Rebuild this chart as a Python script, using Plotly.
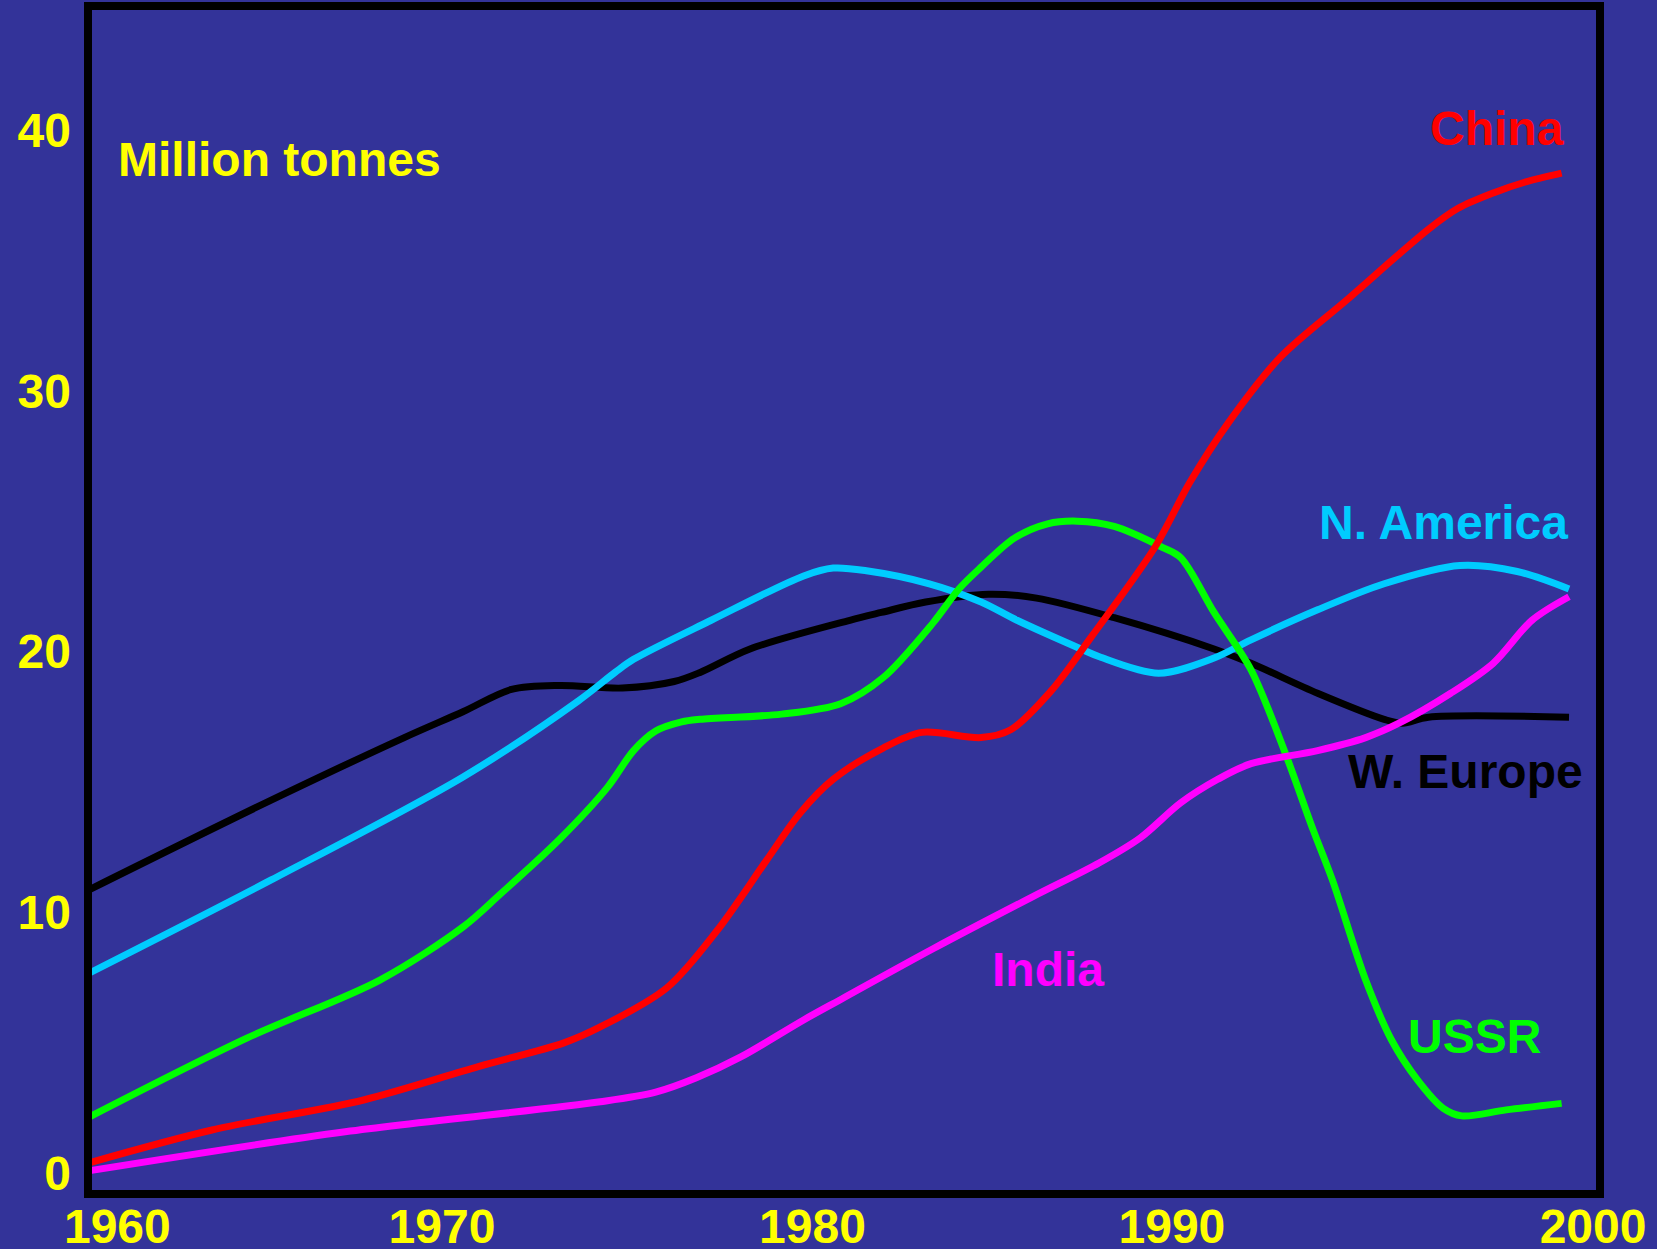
import plotly.graph_objects as go

# ---------------- data (million tonnes) ----------------
weurope_x = [1960.0, 1964.9, 1968.5, 1970.1, 1971.4, 1972.7, 1974.4, 1975.8, 1976.5, 1977.85,
             1980.55, 1981.4, 1982.6, 1984.3, 1985.6, 1987.7, 1990.4, 1991.4, 1993.2, 1995.0,
             1995.5, 1996.2, 2000.0]
weurope_y = [10.88, 14.3, 16.7, 17.7, 18.55, 18.7, 18.6, 18.85, 19.2, 20.1,
             21.2, 21.5, 21.9, 22.2, 22.05, 21.3, 20.1, 19.55, 18.4, 17.4,
             17.25, 17.48, 17.48]

namerica_x = [1960.0, 1964.9, 1970.1, 1973.2, 1974.2, 1974.7, 1976.8, 1979.3,
              1980.1, 1981.0, 1982.7, 1984.1, 1985.07, 1986.8, 1987.3, 1988.9, 1990.4, 1991.4,
              1993.2, 1995.0, 1997.05, 1998.6, 2000.0]
namerica_y = [7.68, 11.24, 15.2, 18.1, 19.2, 19.7, 21.2, 22.9,
              23.2, 23.1, 22.6, 21.9, 21.2, 20.1, 19.8, 19.17, 19.75, 20.45,
              21.6, 22.6, 23.3, 23.07, 22.4]

ussr_x = [1960.0, 1964.24, 1967.84, 1970.1, 1971.1, 1972.7, 1974.0, 1974.7, 1975.3, 1976.0,
          1976.5, 1978.7, 1980.3, 1981.45, 1982.8, 1983.5, 1984.07, 1985.0, 1985.9, 1986.7,
          1987.7, 1989.0, 1989.5, 1990.4, 1991.4, 1992.3, 1993.08, 1993.6, 1994.5, 1995.2,
          1995.9, 1996.6, 1997.1, 1998.3, 1999.8]
ussr_y = [2.16, 5.17, 7.4, 9.45, 10.7, 12.8, 14.8, 16.2, 16.95, 17.3,
          17.4, 17.6, 18.0, 19.0, 21.1, 22.4, 23.2, 24.35, 24.9, 25.0,
          24.8, 24.0, 23.6, 21.5, 19.3, 16.2, 13.16, 11.24, 7.4, 5.1,
          3.57, 2.48, 2.19, 2.42, 2.67]

china_x = [1960.0, 1963.3, 1967.4, 1970.5, 1972.8, 1973.8, 1975.6, 1976.96, 1978.3, 1979.2,
           1980.1, 1981.45, 1982.5, 1984.1, 1984.9, 1986.0, 1987.1, 1988.8, 1989.75, 1990.8,
           1992.2, 1994.0, 1996.2, 1997.0, 1997.97, 1998.8, 1999.8]
china_y = [0.4, 1.65, 2.8, 4.08, 4.98, 5.6, 7.1, 9.3, 12.0, 13.8,
           15.1, 16.3, 16.9, 16.7, 17.0, 18.5, 20.6, 24.0, 26.5, 28.8,
           31.3, 33.5, 36.2, 37.0, 37.6, 38.0, 38.35]

india_x = [1960.0, 1966.9, 1973.8, 1975.3, 1976.4, 1977.6, 1979.3, 1980.4, 1982.8, 1985.5,
           1987.3, 1988.4, 1989.5, 1990.5, 1991.4, 1993.2, 1994.5, 1995.4, 1996.8, 1997.95,
           1999.0, 2000.0]
india_y = [0.09, 1.58, 2.73, 3.1, 3.65, 4.45, 5.87, 6.73, 8.6, 10.6,
           11.9, 12.85, 14.2, 15.1, 15.7, 16.2, 16.7, 17.25, 18.4, 19.55,
           21.2, 22.1]

x_tick_text = ["1960", "1970", "1980", "1990", "2000"]
x_tick_pos = [1960.74, 1969.52, 1979.54, 1989.26, 2000.65]
y_tick_text = ["0", "10", "20", "30", "40"]
y_tick_vals = [0, 10, 20, 30, 40]

series = [
    ("W. Europe", weurope_x, weurope_y, "#000000", 1997.20, 15.40),
    ("N. America", namerica_x, namerica_y, "#00CCFF", 1996.60, 24.95),
    ("USSR", ussr_x, ussr_y, "#00FF00", 1997.44, 5.24),
    ("China", china_x, china_y, "#FF0000", 1998.05, 40.05),
    ("India", india_x, india_y, "#FF00FF", 1985.90, 7.81),
]

BG = "#333399"
YELLOW = "#FFFF00"
FONT = "Liberation Sans, Arial, sans-serif"

fig = go.Figure()
annotations = []
for name, xs, ys, color, lx, ly in series:
    fig.add_trace(go.Scatter(
        x=xs, y=ys, mode="lines", name=name,
        line=dict(color=color, width=7, shape="spline", smoothing=0.9),
        hoverinfo="skip", showlegend=False,
    ))
    annotations.append(dict(
        x=lx, y=ly, xref="x", yref="y", text=name, showarrow=False,
        xanchor="center", yanchor="middle",
        font=dict(family=FONT, size=48, color=color, weight="bold"),
    ))

annotations.append(dict(
    x=1960.70, y=38.88, xref="x", yref="y", text="Million tonnes", showarrow=False,
    xanchor="left", yanchor="middle",
    font=dict(family=FONT, size=48, color=YELLOW, weight="bold"),
))

fig.update_layout(
    width=1657, height=1249,
    margin=dict(l=88, r=57, t=6, b=55, autoexpand=False),
    paper_bgcolor=BG, plot_bgcolor=BG,
    annotations=annotations,
    shapes=[dict(type="rect", xref="paper", yref="paper", x0=0, y0=0, x1=1, y1=1,
                 line=dict(color="#000000", width=8), layer="above")],
    xaxis=dict(
        range=[1959.946, 2000.838], showgrid=False, zeroline=False, showline=False,
        tickmode="array", tickvals=x_tick_pos, ticktext=x_tick_text, ticks="",
        tickfont=dict(family=FONT, size=48, color=YELLOW, weight="bold"),
        ticklabelstandoff=0, automargin=False, fixedrange=True,
    ),
    yaxis=dict(
        range=[-0.806, 44.76], showgrid=False, zeroline=False, showline=False,
        tickmode="array", tickvals=y_tick_vals, ticktext=y_tick_text, ticks="",
        tickfont=dict(family=FONT, size=48, color=YELLOW, weight="bold"),
        ticklabelstandoff=16, automargin=False, fixedrange=True,
    ),
)

fig.write_html(
    "out.html",
    config={"displayModeBar": False},
    post_script="document.body.style.margin='0';document.body.style.background='#333399';",
)
